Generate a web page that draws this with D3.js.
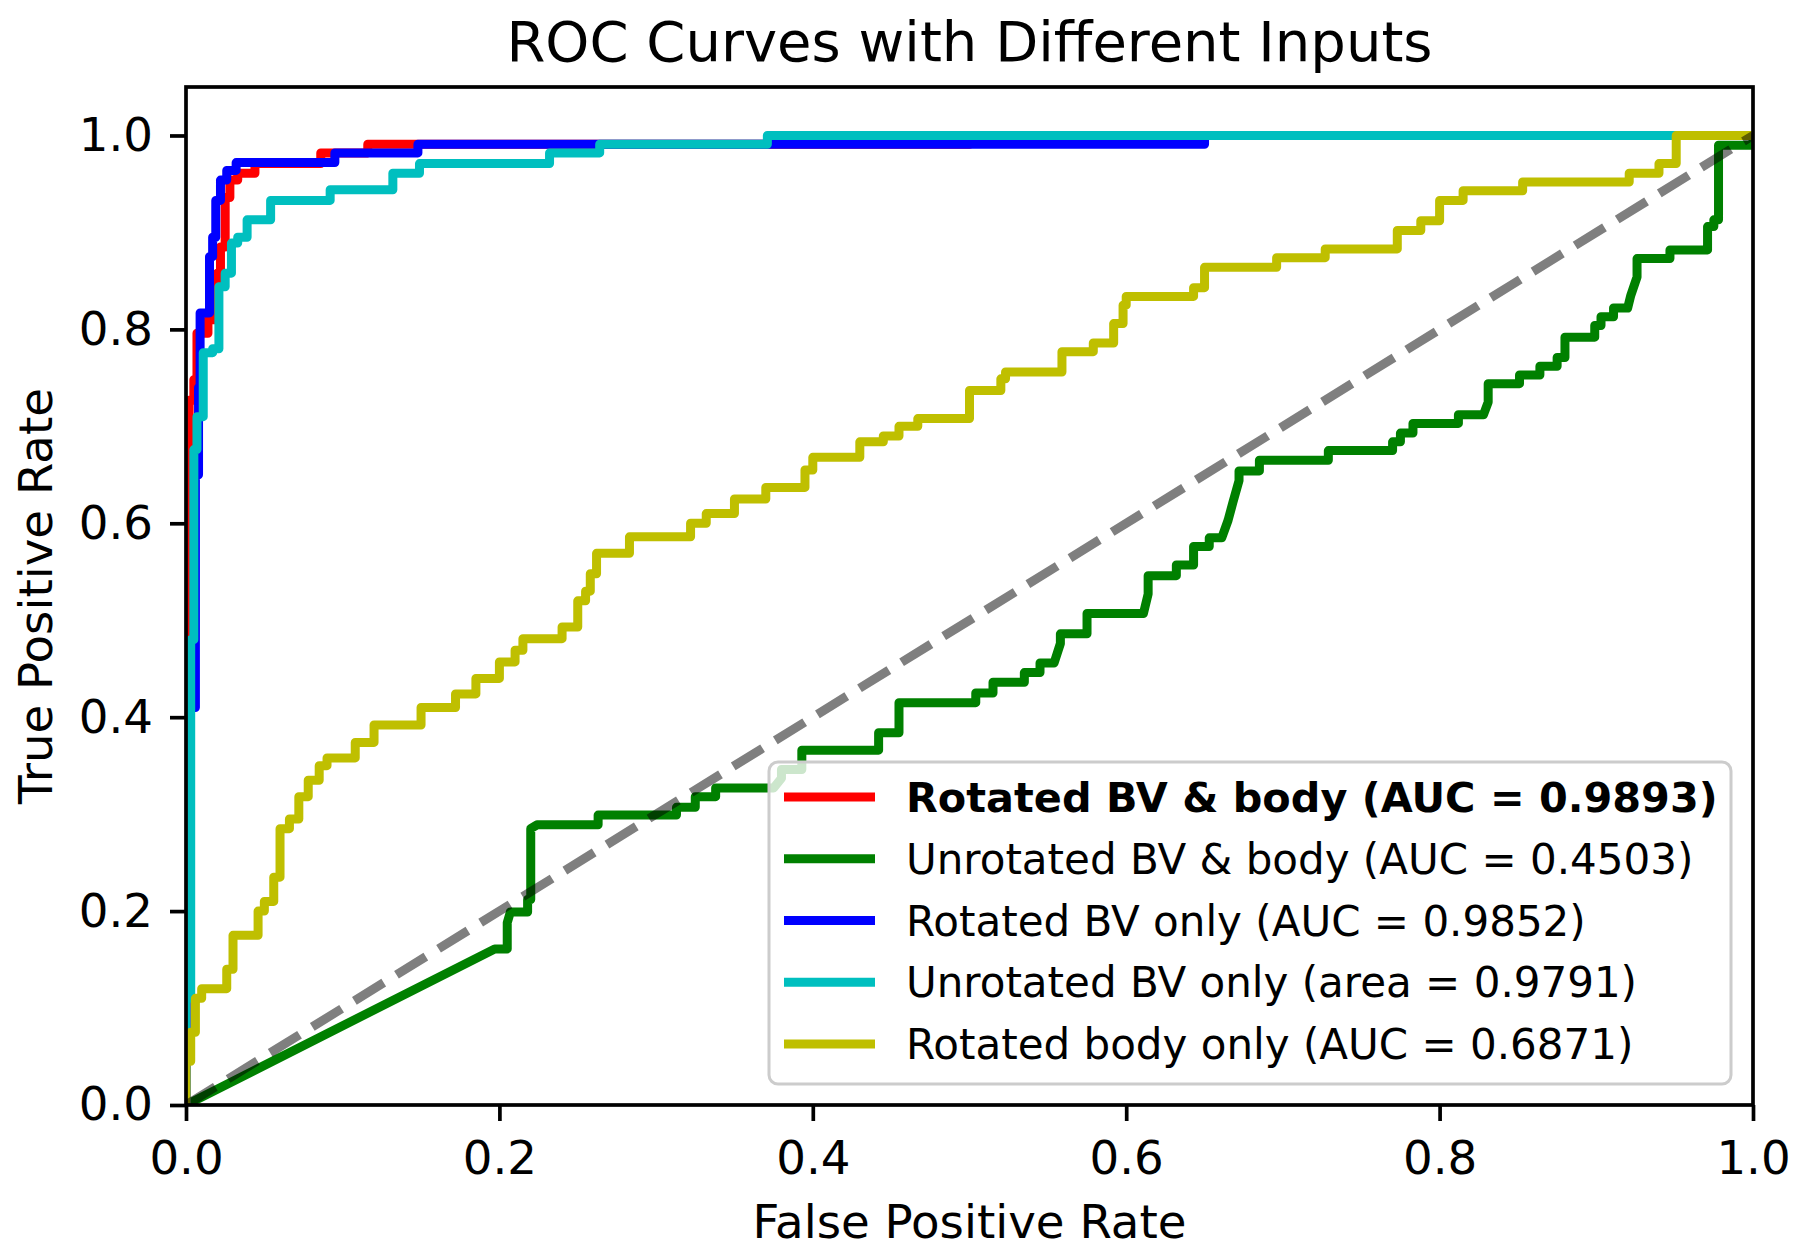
<!DOCTYPE html>
<html>
<head>
<meta charset="utf-8">
<script src="https://cdn.jsdelivr.net/npm/d3@7"></script>
<style>
  body { margin: 0; background: #fff; }
  svg { display: block; font-family: "DejaVu Sans", sans-serif; }
</style>
</head>
<body>
<svg></svg>
<script>
//ROC points, [false positive rate, true positive rate]
let rotatedBoth = [[0,0],[0,0.68],[0.002,0.68],[0.002,0.727],[0.005,0.727],[0.005,0.748],[0.007,0.748],[0.007,0.796],
  [0.014,0.796],[0.014,0.81],[0.02,0.81],[0.02,0.858],[0.022,0.858],[0.022,0.885],[0.025,0.885],[0.025,0.936],
  [0.028,0.936],[0.028,0.954],[0.033,0.954],[0.033,0.961],[0.044,0.961],[0.044,0.971],[0.086,0.971],[0.086,0.982],
  [0.116,0.982],[0.116,0.991],[0.5,0.991],[0.5,1],[1,1]];

let unrotatedBoth = [[0,0],[0.197,0.161],[0.205,0.161],[0.205,0.188],[0.207,0.199],[0.218,0.199],[0.218,0.212],
  [0.22,0.212],[0.22,0.285],[0.224,0.289],[0.263,0.289],[0.263,0.299],[0.313,0.299],[0.313,0.307],[0.325,0.307],
  [0.325,0.318],[0.338,0.318],[0.338,0.327],[0.375,0.327],[0.38,0.337],[0.38,0.346],[0.393,0.346],[0.393,0.366],
  [0.442,0.366],[0.442,0.384],[0.455,0.384],[0.455,0.415],[0.504,0.415],[0.504,0.425],[0.515,0.425],[0.515,0.436],
  [0.535,0.436],[0.535,0.446],[0.545,0.446],[0.545,0.456],[0.554,0.456],[0.558,0.476],[0.558,0.486],[0.575,0.486],
  [0.575,0.507],[0.611,0.507],[0.614,0.527],[0.614,0.546],[0.632,0.546],[0.632,0.557],[0.643,0.557],[0.643,0.576],
  [0.653,0.576],[0.653,0.585],[0.661,0.585],[0.665,0.603],[0.668,0.621],[0.672,0.644],[0.672,0.654],[0.685,0.654],
  [0.685,0.665],[0.729,0.665],[0.729,0.675],[0.77,0.675],[0.77,0.684],[0.775,0.684],[0.775,0.693],[0.783,0.693],
  [0.783,0.703],[0.812,0.703],[0.812,0.712],[0.828,0.712],[0.831,0.725],[0.831,0.744],[0.851,0.744],[0.851,0.753],
  [0.864,0.753],[0.864,0.762],[0.875,0.762],[0.875,0.771],[0.88,0.771],[0.88,0.792],[0.899,0.792],[0.899,0.804],
  [0.903,0.804],[0.903,0.813],[0.911,0.813],[0.911,0.822],[0.92,0.822],[0.922,0.835],[0.926,0.854],[0.926,0.873],
  [0.947,0.873],[0.947,0.882],[0.971,0.882],[0.971,0.906],[0.975,0.906],[0.975,0.913],[0.978,0.913],[0.978,0.99],
  [1,0.99],[1,1]];

let rotatedBV = [[0,0],[0,0.41],[0.006,0.41],[0.006,0.65],[0.008,0.65],[0.008,0.74],[0.009,0.74],[0.009,0.817],
  [0.015,0.817],[0.015,0.875],[0.017,0.875],[0.017,0.895],[0.019,0.895],[0.019,0.933],[0.022,0.933],[0.022,0.954],
  [0.026,0.954],[0.026,0.964],[0.032,0.964],[0.032,0.972],[0.095,0.972],[0.095,0.982],[0.148,0.982],[0.148,0.991],
  [0.65,0.991],[0.65,1],[1,1]];

let unrotatedBV = [[0,0],[0,0.11],[0.003,0.11],[0.003,0.48],[0.005,0.48],[0.005,0.676],[0.007,0.676],[0.007,0.71],
  [0.011,0.71],[0.011,0.776],[0.017,0.776],[0.017,0.78],[0.021,0.78],[0.021,0.844],[0.025,0.844],[0.025,0.858],
  [0.029,0.858],[0.029,0.889],[0.033,0.889],[0.033,0.895],[0.039,0.895],[0.039,0.913],[0.054,0.913],[0.054,0.933],
  [0.092,0.933],[0.092,0.944],[0.132,0.944],[0.132,0.961],[0.149,0.961],[0.149,0.971],[0.232,0.971],[0.232,0.982],
  [0.264,0.982],[0.264,0.991],[0.371,0.991],[0.371,1],[1,1]];

let rotatedBody = [[0,0],[0,0.045],[0.003,0.045],[0.003,0.075],[0.006,0.075],[0.006,0.11],[0.01,0.11],[0.01,0.12],
  [0.026,0.12],[0.026,0.14],[0.03,0.14],[0.03,0.175],[0.046,0.175],[0.046,0.2],[0.05,0.2],[0.05,0.21],[0.056,0.21],
  [0.056,0.235],[0.06,0.235],[0.06,0.285],[0.066,0.285],[0.066,0.295],[0.072,0.295],[0.072,0.318],[0.078,0.318],
  [0.078,0.335],[0.085,0.335],[0.085,0.35],[0.09,0.35],[0.09,0.358],[0.108,0.358],[0.108,0.374],[0.12,0.374],
  [0.12,0.392],[0.15,0.392],[0.15,0.41],[0.172,0.41],[0.172,0.424],[0.185,0.424],[0.185,0.44],[0.2,0.44],
  [0.2,0.457],[0.21,0.457],[0.21,0.469],[0.215,0.469],[0.215,0.481],[0.24,0.481],[0.24,0.493],[0.25,0.493],
  [0.25,0.52],[0.255,0.52],[0.255,0.53],[0.258,0.53],[0.258,0.548],[0.262,0.548],[0.262,0.569],[0.283,0.569],
  [0.283,0.586],[0.322,0.586],[0.322,0.6],[0.332,0.6],[0.332,0.61],[0.35,0.61],[0.35,0.625],[0.37,0.625],
  [0.37,0.637],[0.395,0.637],[0.395,0.655],[0.4,0.655],[0.4,0.668],[0.43,0.668],[0.43,0.684],[0.445,0.684],
  [0.445,0.69],[0.455,0.69],[0.455,0.7],[0.467,0.7],[0.467,0.708],[0.5,0.708],[0.5,0.737],[0.52,0.737],
  [0.52,0.749],[0.523,0.749],[0.523,0.756],[0.559,0.756],[0.559,0.777],[0.579,0.777],[0.579,0.786],[0.592,0.786],
  [0.592,0.806],[0.598,0.806],[0.598,0.825],[0.6,0.825],[0.6,0.834],[0.643,0.834],[0.643,0.843],[0.65,0.843],
  [0.65,0.864],[0.696,0.864],[0.696,0.874],[0.727,0.874],[0.727,0.883],[0.773,0.883],[0.773,0.902],[0.788,0.902],
  [0.788,0.912],[0.8,0.912],[0.8,0.933],[0.815,0.933],[0.815,0.943],[0.853,0.943],[0.853,0.952],[0.921,0.952],
  [0.921,0.961],[0.94,0.961],[0.94,0.971],[0.951,0.971],[0.951,1],[1,1]];

let chanceLine = [[0,0],[1,1]];

//series order, colours and legend labels
let seriesData = [rotatedBoth, unrotatedBoth, rotatedBV, unrotatedBV, rotatedBody];
let seriesColors = ['#ff0000', '#008000', '#0000ff', '#00bfbf', '#bfbf00'];
let seriesLabels = [
  'Rotated BV & body (AUC = 0.9893)',
  'Unrotated BV & body (AUC = 0.4503)',
  'Rotated BV only (AUC = 0.9852)',
  'Unrotated BV only (area = 0.9791)',
  'Rotated body only (AUC = 0.6871)'
];
let tickValues = [0, 0.2, 0.4, 0.6, 0.8, 1.0];

//svg dimensions
let width = 1800;
let height = 1253;
let plotLeft = 186, plotRight = 1753, plotTop = 87, plotBottom = 1105;

let svg = d3.select('svg').attr('width', width).attr('height', height);

let xScale = d3.scaleLinear().domain([0, 1]).range([plotLeft, plotRight]);
let yScale = d3.scaleLinear().domain([0, 1.05]).range([plotBottom, plotTop]);

let line = d3.line().x(d => xScale(d[0])).y(d => yScale(d[1]));

//clip curves to the axes box
svg.append('clipPath').attr('id', 'plot-clip')
  .append('rect')
  .attr('x', plotLeft).attr('y', plotTop)
  .attr('width', plotRight - plotLeft).attr('height', plotBottom - plotTop);

let plot = svg.append('g').attr('clip-path', 'url(#plot-clip)');

seriesData.forEach((pts, i) => {
  plot.append('path')
    .attr('d', line(pts))
    .attr('fill', 'none')
    .attr('stroke', seriesColors[i])
    .attr('stroke-width', 9)
    .attr('stroke-linejoin', 'round')
    .attr('stroke-linecap', 'square');
});

plot.append('path')
  .attr('d', line(chanceLine))
  .attr('fill', 'none')
  .attr('stroke', '#000')
  .attr('stroke-opacity', 0.5)
  .attr('stroke-width', 9)
  .attr('stroke-dasharray', '34.5,15');

//axes
let xAxis = d3.axisBottom(xScale).tickValues(tickValues).tickFormat(d3.format('.1f'))
  .tickSize(16).tickSizeOuter(0).tickPadding(20);
let yAxis = d3.axisLeft(yScale).tickValues(tickValues).tickFormat(d3.format('.1f'))
  .tickSize(16).tickSizeOuter(0).tickPadding(17);

let gx = svg.append('g').attr('transform', 'translate(0,' + plotBottom + ')').call(xAxis);
let gy = svg.append('g').attr('transform', 'translate(' + plotLeft + ',0)').call(yAxis);

[gx, gy].forEach(g => {
  g.select('.domain').remove();
  g.selectAll('line').attr('stroke', '#000').attr('stroke-width', 3.7);
  g.selectAll('text').attr('font-size', 46.7).attr('fill', '#000')
    .attr('font-family', '"DejaVu Sans", sans-serif');
});

//spines
svg.append('rect')
  .attr('x', plotLeft).attr('y', plotTop)
  .attr('width', plotRight - plotLeft).attr('height', plotBottom - plotTop)
  .attr('fill', 'none').attr('stroke', '#000').attr('stroke-width', 3.7);

//title and axis labels
svg.append('text')
  .attr('x', (plotLeft + plotRight) / 2).attr('y', 61)
  .attr('text-anchor', 'middle').attr('font-size', 56)
  .text('ROC Curves with Different Inputs');

svg.append('text')
  .attr('x', (plotLeft + plotRight) / 2).attr('y', 1238)
  .attr('text-anchor', 'middle').attr('font-size', 46.7)
  .text('False Positive Rate');

svg.append('text')
  .attr('transform', 'translate(52,' + (plotTop + plotBottom) / 2 + ') rotate(-90)')
  .attr('text-anchor', 'middle').attr('font-size', 46.7)
  .text('True Positive Rate');

//legend
let legend = svg.append('g');
legend.append('rect')
  .attr('x', 769).attr('y', 762)
  .attr('width', 962).attr('height', 322)
  .attr('rx', 9).attr('ry', 9)
  .attr('fill', '#fff').attr('fill-opacity', 0.8)
  .attr('stroke', '#cccccc').attr('stroke-width', 3);

let rowY = d3.scaleLinear().domain([0, 4]).range([797, 1044]);

seriesLabels.forEach((label, i) => {
  legend.append('line')
    .attr('x1', 784).attr('x2', 875)
    .attr('y1', rowY(i)).attr('y2', rowY(i))
    .attr('stroke', seriesColors[i]).attr('stroke-width', 9)
    .attr('stroke-linecap', 'butt');
  legend.append('text')
    .attr('x', 906).attr('y', rowY(i))
    .attr('dy', '0.36em')
    .attr('font-size', i === 0 ? 41.4 : 42)
    .attr('font-weight', i === 0 ? 'bold' : 'normal')
    .text(label);
});
</script>
</body>
</html>
